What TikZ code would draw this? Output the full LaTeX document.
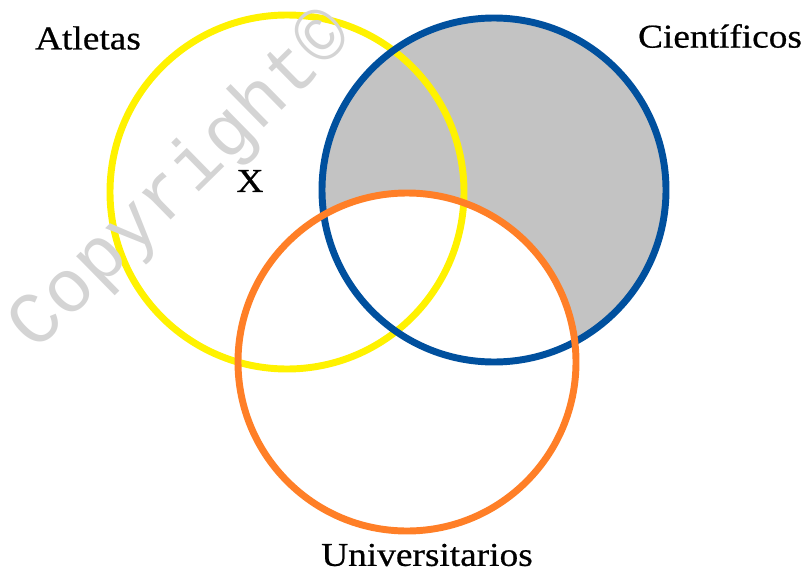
\documentclass[tikz,border=0pt]{standalone}
\usepackage{fontspec}
\setmainfont{Liberation Serif}[FakeStretch=1.12, BoldFont={Liberation Serif}, BoldFeatures={FakeBold=0.6}]
\newfontfamily\markfont{Liberation Mono}
\usetikzlibrary{positioning}
\definecolor{atlyellow}{RGB}{255,242,0}
\definecolor{cienblue}{RGB}{0,80,158}
\definecolor{univorange}{RGB}{255,127,39}
\definecolor{shadegray}{RGB}{195,195,195}
\definecolor{markgray}{RGB}{212,212,212}

\begin{document}
\begin{tikzpicture}[x=0.75pt, y=-0.75pt,
          setlabel/.style={font=\fontsize{25}{30}\selectfont\bfseries, inner sep=0pt},
          ring/.style={line width=5.2pt}]

        \useasboundingbox (0,0) rectangle (807,571);

        \coordinate (ca) at (287,192);
        \coordinate (cc) at (494,190);
        \coordinate (cu) at (407,362);

        % region shaded: Cientificos outside Universitarios
        \fill [shadegray] (cc) circle (172);
        \fill [white] (cu) circle (169);

        \draw [ring, atlyellow] (ca) circle (177);
        \draw [ring, cienblue] (cc) circle (172);
        \draw [ring, univorange] (cu) circle (169);

        \node [setlabel] (atl) at (88,38) {Atletas};
        \node [setlabel] (cie) at (720,36) {Científicos};
        \node [setlabel] (uni) at (427,555) {Universitarios};
        \node [setlabel] (x) at (250,181) {X};

        \node [markgray, rotate=44.5, inner sep=0pt, font=\markfont\fontsize{56}{60}\selectfont] (mark) at (182,182) {Copyright©};
      \end{tikzpicture}
\end{document}
